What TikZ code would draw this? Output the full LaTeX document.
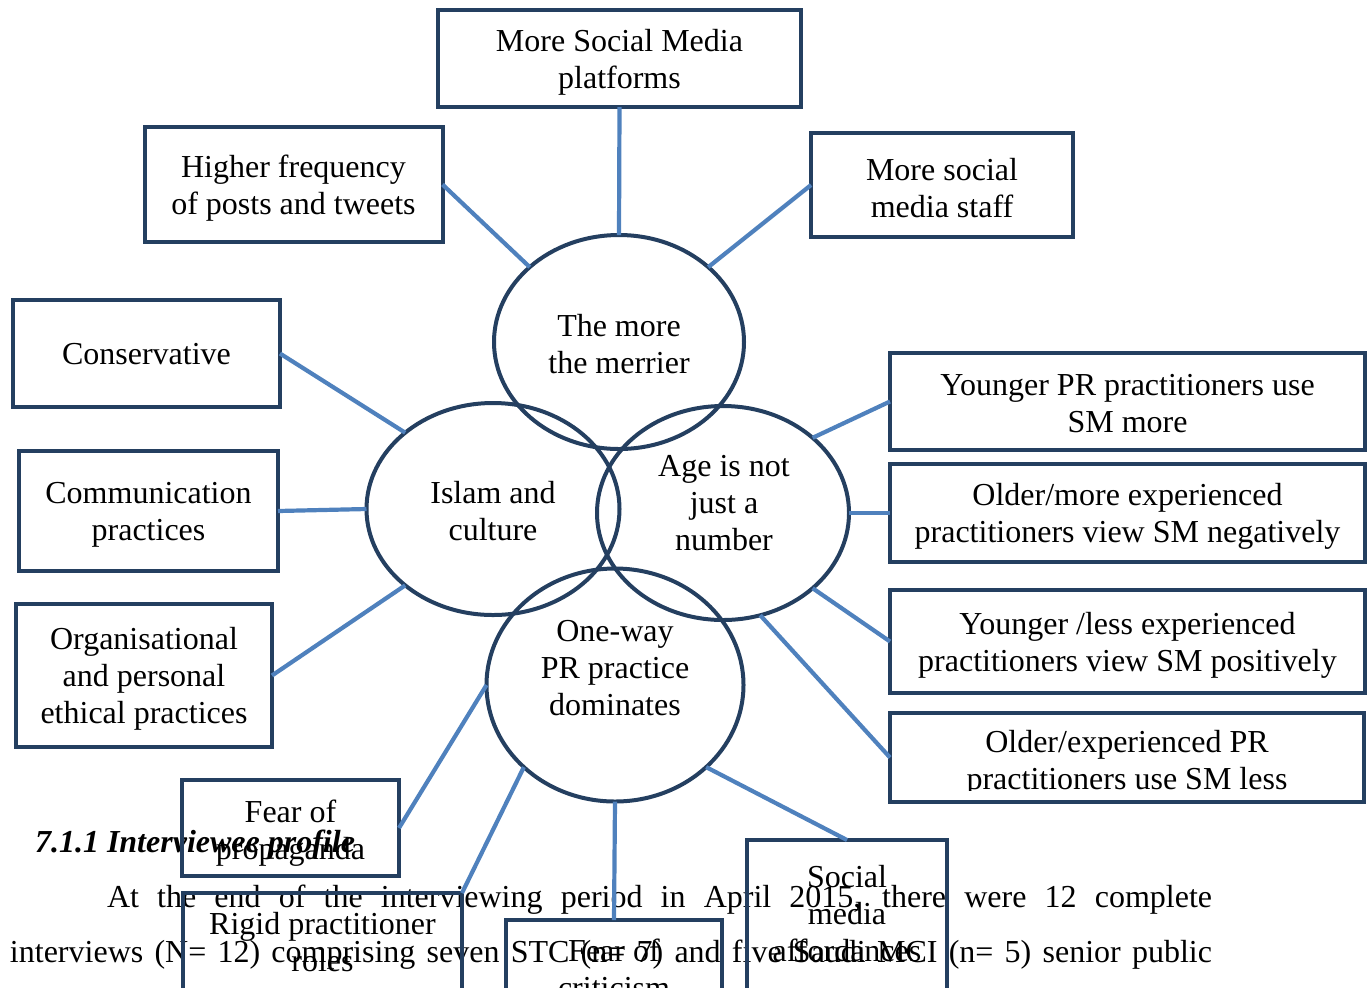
\documentclass[tikz,border=0pt]{standalone}
\usepackage{fontspec}
\setmainfont{Liberation Serif}
\usetikzlibrary{shapes.geometric}
\definecolor{navy}{HTML}{243F60}
\definecolor{linkblue}{HTML}{4F81BD}
\tikzset{
  box/.style={draw=navy, line width=2pt, rectangle, inner sep=0pt, outer sep=0pt},
  oval/.style={draw=navy, line width=2pt, ellipse, inner sep=0pt, outer sep=0pt},
  label text/.style={align=center, inner sep=0pt},
  box text/.style={align=center, inner sep=0pt, yshift=-1.75pt},
  body/.style={anchor=base west, inner sep=0pt, outer sep=0pt},
  link/.style={draw=linkblue, line width=2.1pt}
}
\begin{document}
\begin{tikzpicture}[x=0.5pt,y=-0.5pt,
  every node/.style={font=\fontsize{16}{18.5}\selectfont}]
\useasboundingbox (0,0) rectangle (1371,987);
\clip (0,0) rectangle (1371,987);

% running text of the page
\node[body] (head) at (35,852) {\textbf{\textit{7.1.1 Interviewee profile}}};
\node[body] (par1) at (107,907) {\makebox[552.5pt][s]{At the end of the interviewing period in April 2015, there were 12 complete}};
\node[body] (par2) at (10,962) {\makebox[601pt][s]{interviews (N= 12) comprising seven STC (n= 7) and five Saudi MCI (n= 5) senior public}};

% theme ovals
\node[oval, minimum width=125pt, minimum height=107pt] (merrier) at (619,342) {};
\node[oval, minimum width=126.5pt, minimum height=106pt] (islam) at (493,509) {};
\node[oval, minimum width=126pt, minimum height=107pt] (age) at (723,513) {};
\node[oval, minimum width=128.5pt, minimum height=116.5pt] (oneway) at (615,685) {};
\node[label text] (tmerrier) at (619,344) {The more\\the merrier};
\node[label text] (tislam) at (493,511) {Islam and\\culture};
\node[label text] (tage) at (724,503) {Age is not\\just a\\number};
\node[label text] (toneway) at (615,668) {One-way\\PR practice\\dominates};

% sub-theme boxes, each with its text a little below the centre
\node[box, minimum width=181.5pt, minimum height=48.5pt,
  label={[box text, name=tplatforms]center:{More Social Media\\platforms}}] (platforms) at (619.5,58.5) {};
\node[box, minimum width=149pt, minimum height=57.5pt,
  label={[box text, name=tfrequency]center:{Higher frequency\\of posts and tweets}}] (frequency) at (293.5,184.5) {};
\node[box, minimum width=131pt, minimum height=52pt,
  label={[box text, name=tstaff]center:{More social\\media staff}}] (staff) at (942,185) {};
\node[box, minimum width=133.5pt, minimum height=53.5pt,
  label={[box text, name=tconservative, yshift=1.25pt]center:{Conservative}}] (conservative) at (146.5,353.5) {};
\node[box, minimum width=129.5pt, minimum height=60pt,
  label={[box text, name=tcommunication]center:{Communication\\practices}}] (communication) at (148.5,511) {};
\node[box, minimum width=128pt, minimum height=71.5pt,
  label={[box text, name=tethical]center:{Organisational\\and personal\\ethical practices}}] (ethical) at (144,675.5) {};
\node[box, minimum width=108.5pt, minimum height=48pt,
  label={[box text, name=tpropaganda, yshift=-1pt]center:{Fear of\\propaganda}}] (propaganda) at (290.5,828) {};
\node[box, minimum width=139.5pt, minimum height=49pt,
  label={[box text, name=trigid, yshift=1.75pt]center:{Rigid practitioner\\roles}}] (rigid) at (322.5,942) {};
\node[box, minimum width=108pt, minimum height=51pt,
  label={[box text, name=tcriticism, yshift=2.75pt]center:{Fear of\\criticism}}] (criticism) at (614,971) {};
\node[box, minimum width=100pt, minimum height=76pt,
  label={[box text, name=taffordances, yshift=2.75pt]center:{Social\\media\\affordances}}] (affordances) at (847,916) {};
\node[box, minimum width=237.5pt, minimum height=48.5pt,
  label={[box text, name=tyoungmore, yshift=0.75pt]center:{Younger PR practitioners use\\SM more}}] (youngmore) at (1127.5,401.5) {};
\node[box, minimum width=237.5pt, minimum height=49pt,
  label={[box text, name=toldneg]center:{Older/more experienced\\practitioners view SM negatively}}] (oldneg) at (1127.5,513) {};
\node[box, minimum width=237.5pt, minimum height=51.5pt,
  label={[box text, name=tyoungpos]center:{Younger /less experienced\\practitioners view SM positively}}] (youngpos) at (1127.5,641.5) {};
\node[box, minimum width=237pt, minimum height=44.5pt] (oldless) at (1127,757.5) {};
\begin{scope}
  \clip (892,715) rectangle (1362,790);
  \node[label text] (toldless) at (1127,763) {Older/experienced PR\\practitioners use SM less};
\end{scope}

% connectors
\draw[link] (merrier.north) -- (platforms.south);
\draw[link] (merrier.140) -- (frequency.east);
\draw[link] (merrier.40) -- (staff.west);
\draw[link] (islam.139) -- (conservative.east);
\draw[link] (islam.west) -- (communication.east);
\draw[link] (islam.221) -- (ethical.east);
\draw[link] (age.40) -- (youngmore.west);
\draw[link] (age.east) -- (oldneg.west);
\draw[link] (age.-40) -- (youngpos.west);
\draw[link] (age.-70) -- (oldless.west);
\draw[link] (oneway.west) -- (propaganda.east);
\draw[link] (oneway.222) -- (rigid.north east);
\draw[link] (oneway.south) -- (criticism.north);
\draw[link] (oneway.-42) -- (affordances.north);
\end{tikzpicture}
\end{document}
